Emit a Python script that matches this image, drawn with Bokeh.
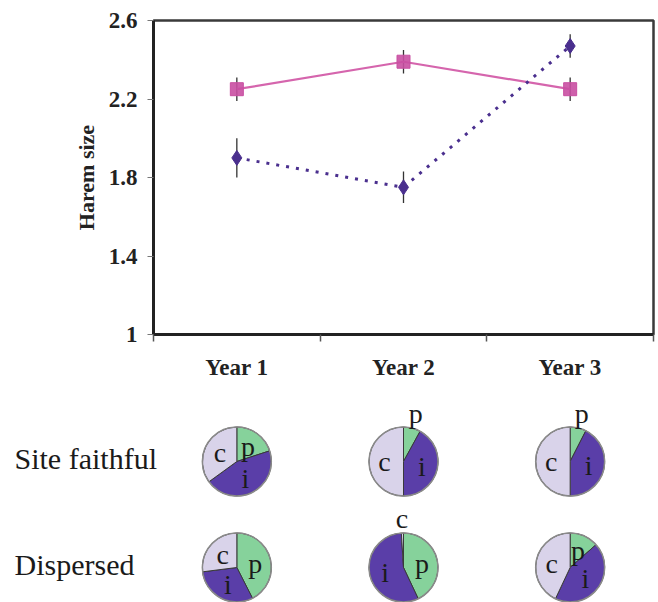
import math
from bokeh.plotting import figure
from bokeh.layouts import column
from bokeh.models import Range1d, FixedTicker, Label, ColumnDataSource
from bokeh.core.properties import value
from bokeh.embed import file_html
from bokeh.resources import INLINE

# ---------------- data ----------------
years = ["Year 1", "Year 2", "Year 3"]
faithful_mean = [2.25, 2.39, 2.25]
faithful_se = [0.06, 0.06, 0.06]
dispersed_mean = [1.90, 1.75, 2.47]
dispersed_se = [0.10, 0.08, 0.06]
y_ticks = [1, 1.4, 1.8, 2.2, 2.6]
y_tick_labels = ["1", "1.4", "1.8", "2.2", "2.6"]

# pie fractions (p, i, c) clockwise from 12 o'clock
faithful_p = [0.20, 0.08, 0.075]
faithful_i = [0.45, 0.42, 0.425]
faithful_c = [0.35, 0.50, 0.50]
dispersed_p = [0.425, 0.43, 0.135]
dispersed_i = [0.305, 0.56, 0.435]
dispersed_c = [0.27, 0.01, 0.43]
row_names = ["Site faithful", "Dispersed"]
slice_names = ["p", "i", "c"]

SERIF = "Liberation Serif"
PINK_LINE = "#d565ad"
PINK = "#c94fa2"
BLUE = "#4a2f8e"
COL_P = "#86d29b"
COL_I = "#5a3ea8"
COL_C = "#d9d3ea"

xpos = [i + 0.5 for i in range(len(years))]

# ---------------- main chart ----------------
W = 658
H1 = 388
LB, RB = 153, 5
FW = W - LB - RB
p = figure(width=W, height=H1, output_backend="svg", toolbar_location=None,
           x_range=Range1d(0, 3), y_range=Range1d(1, 2.6),
           min_border_left=LB, min_border_right=RB, min_border_top=20,
           min_border_bottom=54)
p.xgrid.grid_line_color = None
p.ygrid.grid_line_color = None
p.outline_line_color = "#3a3a3a"
p.outline_line_width = 2.5
p.background_fill_color = "white"
p.border_fill_color = "white"

# error bars
p.segment(x0=xpos, x1=xpos,
          y0=[m - s for m, s in zip(faithful_mean, faithful_se)],
          y1=[m + s for m, s in zip(faithful_mean, faithful_se)],
          line_color="#333333", line_width=1.3)
p.segment(x0=xpos, x1=xpos,
          y0=[m - s for m, s in zip(dispersed_mean, dispersed_se)],
          y1=[m + s for m, s in zip(dispersed_mean, dispersed_se)],
          line_color="#333333", line_width=1.3)

p.line(xpos, faithful_mean, line_color=PINK_LINE, line_width=2.2)
p.line(xpos, dispersed_mean, line_color=BLUE, line_width=3, line_dash="3 7")
p.scatter(xpos, faithful_mean, marker="square", size=13, fill_color=PINK,
          line_color=PINK, fill_alpha=0.9)
p.scatter(xpos, dispersed_mean, marker="diamond", size=15, fill_color=BLUE,
          line_color=BLUE)

# y axis
ya = p.yaxis[0]
ya.ticker = FixedTicker(ticks=y_ticks, minor_ticks=[])
ya.major_label_overrides = {t: l for t, l in zip(y_ticks, y_tick_labels)}
ya.major_label_text_font = SERIF
ya.major_label_text_font_style = "bold"
ya.major_label_text_font_size = "23px"
ya.major_label_text_color = "#222222"
ya.major_tick_out = 6
ya.major_tick_in = 0
ya.major_tick_line_color = "#777777"
ya.major_label_standoff = 10
ya.axis_line_color = "#222222"
ya.axis_line_width = 3
ya.axis_label = "Harem size"
ya.axis_label_text_font = SERIF
ya.axis_label_text_font_style = "bold"
ya.axis_label_text_font_size = "22px"
ya.axis_label_text_color = "#222222"
ya.axis_label_standoff = 7

# x axis
xa = p.xaxis[0]
xa.ticker = FixedTicker(ticks=xpos, minor_ticks=[0, 1, 2, 3])
xa.major_label_overrides = {x: y for x, y in zip(xpos, years)}
xa.major_label_text_font = SERIF
xa.major_label_text_font_style = "bold"
xa.major_label_text_font_size = "23px"
xa.major_label_text_color = "#222222"
xa.major_tick_out = 0
xa.major_tick_in = 0
xa.minor_tick_out = 7
xa.minor_tick_in = 0
xa.minor_tick_line_color = "#555555"
xa.minor_tick_line_width = 1.5
xa.major_label_standoff = 13
xa.axis_line_color = "#222222"
xa.axis_line_width = 3

# ---------------- pie row panel ----------------
H2 = 214
x0 = -LB / FW * 3
x1 = 3 + RB / FW * 3
q = figure(width=W, height=H2, output_backend="svg", toolbar_location=None,
           x_range=Range1d(x0, x1), y_range=Range1d(0, H2),
           min_border=0, min_border_left=0, min_border_right=0,
           min_border_top=0, min_border_bottom=0)
q.axis.visible = False
q.xgrid.grid_line_color = None
q.ygrid.grid_line_color = None
q.outline_line_color = None

for fig in (p, q):
    try:
        fig.frame_align = False
    except Exception:
        pass

R = 34.5
row_y = [141, 35]
rows = [(faithful_p, faithful_i, faithful_c), (dispersed_p, dispersed_i, dispersed_c)]
colors = [COL_P, COL_I, COL_C]

wx, wy, ws, we, wc = [], [], [], [], []
tx, ty, tt, tdx, tdy = [], [], [], [], []
for ry, fr in zip(row_y, rows):
    for k in range(3):
        cum = 0.0
        for s in range(3):
            f = fr[s][k]
            a0 = cum * 2 * math.pi
            a1 = (cum + f) * 2 * math.pi
            wx.append(xpos[k]); wy.append(ry)
            ws.append(math.pi / 2 - a0); we.append(math.pi / 2 - a1)
            wc.append(colors[s])
            mid = (a0 + a1) / 2
            rr = R * 0.55 if f >= 0.1 else R + 15
            tx.append(xpos[k]); ty.append(ry); tt.append(slice_names[s])
            tdx.append(rr * math.sin(mid)); tdy.append(-rr * math.cos(mid))
            cum += f

q.wedge(x=wx, y=wy, radius=R, radius_units="screen", start_angle=ws,
        end_angle=we, direction="clock", fill_color=wc,
        line_color="#3a3a3a", line_width=1)
q.circle(x=[xp for _ in row_y for xp in xpos], y=[ry for ry in row_y for _ in xpos],
         radius=R, radius_units="screen", fill_color=None,
         line_color="#8a8a8a", line_width=1.5)
src = ColumnDataSource(dict(x=tx, y=ty, t=tt, dx=tdx, dy=tdy))
q.text(x="x", y="y", text="t", x_offset="dx", y_offset="dy", source=src,
       text_font=value(SERIF), text_font_size="28px", text_align="center",
       text_baseline="middle", text_color="#1a1a1a")

for name, ry in zip(row_names, row_y):
    q.add_layout(Label(x=x0 + 14 / W * (x1 - x0), y=ry + 3, text=name,
                       text_font=SERIF, text_font_size="30px",
                       text_baseline="middle", text_color="#1a1a1a"))

layout = column(p, q, spacing=0)
open("out.html", "w").write(file_html(layout, INLINE))
